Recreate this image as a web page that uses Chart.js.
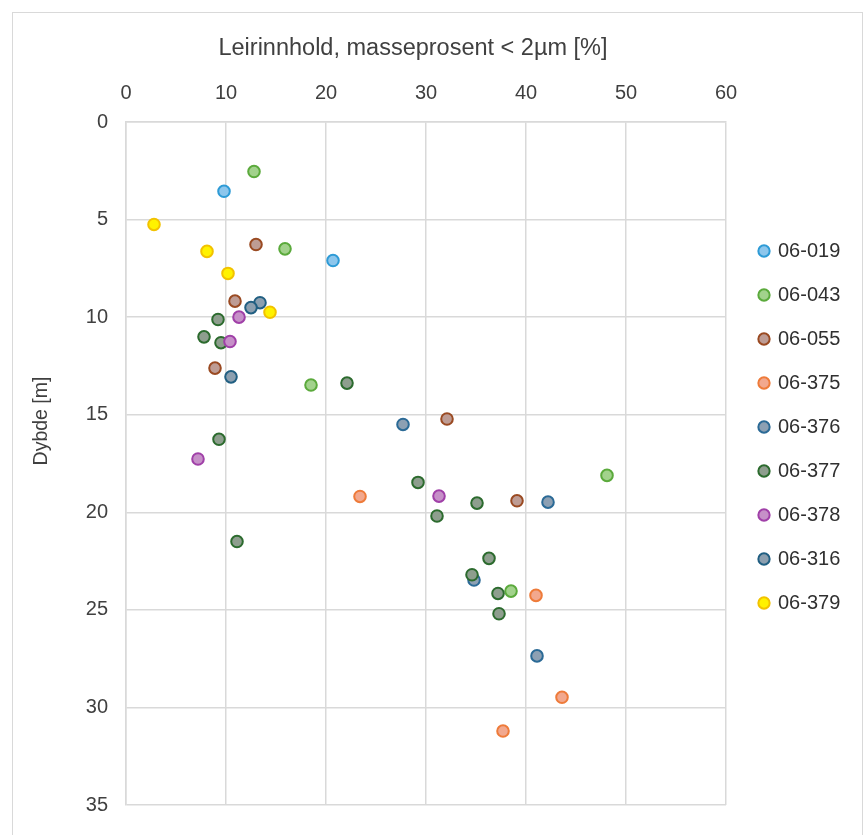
<!DOCTYPE html>
<html>
<head>
<meta charset="utf-8">
<script src="https://cdn.jsdelivr.net/npm/chart.js@4.4.1/dist/chart.umd.min.js"></script>
<style>
  html, body { margin: 0; padding: 0; background: #fff; }
  #wrap { position: relative; width: 864px; height: 835px; overflow: hidden; background: #fff; }
  #frame { position: absolute; left: 12px; top: 12px; width: 851px; height: 860px;
           border: 1.5px solid #D9D9D9; box-sizing: border-box; pointer-events: none; }
  canvas { position: absolute; left: 0; top: 0; }
</style>
</head>
<body>
<div id="wrap">
  <canvas id="chart" width="864" height="835"></canvas>
  <div id="frame"></div>
</div>
<script>
// Borehole labels, in legend order
const boreholes = ['06-019', '06-043', '06-055', '06-375', '06-376', '06-377', '06-378', '06-316', '06-379'];

// Clay content (% mass < 2 µm) and sample depth (m) for each borehole
const clay019 = [9.8, 20.7];
const depth019 = [3.55, 7.1];

const clay043 = [12.8, 15.9, 18.5, 48.1, 38.5];
const depth043 = [2.54, 6.5, 13.48, 18.11, 24.04];

const clay055 = [13.0, 10.9, 8.9, 32.1, 39.1];
const depth055 = [6.28, 9.18, 12.61, 15.22, 19.41];

const clay375 = [23.4, 41.0, 43.6, 37.7];
const depth375 = [19.19, 24.26, 29.48, 31.21];

const clay376 = [27.7, 42.2, 34.8, 41.1];
const depth376 = [15.5, 19.48, 23.47, 27.36];

const clay377 = [9.2, 7.8, 9.5, 22.1, 9.3, 29.2, 35.1, 31.1, 11.1, 36.3, 34.6, 37.2, 37.3];
const depth377 = [10.12, 11.01, 11.31, 13.38, 16.26, 18.47, 19.53, 20.19, 21.5, 22.36, 23.2, 24.16, 25.2];

const clay378 = [11.3, 10.4, 7.2, 31.3];
const depth378 = [10.0, 11.25, 17.27, 19.17];

const clay316 = [13.4, 12.5, 10.5];
const depth316 = [9.26, 9.51, 13.06];

const clay379 = [2.8, 8.1, 10.2, 14.4];
const depth379 = [5.25, 6.63, 7.76, 9.75];

const clayValues = [clay019, clay043, clay055, clay375, clay376, clay377, clay378, clay316, clay379];
const depthValues = [depth019, depth043, depth055, depth375, depth376, depth377, depth378, depth316, depth379];

// Axis ranges and titles
const clayTicks = [0, 10, 20, 30, 40, 50, 60];
const depthTicks = [0, 5, 10, 15, 20, 25, 30, 35];
const xTitle = 'Leirinnhold, masseprosent < 2µm [%]';
const yTitle = 'Dybde [m]';

// Marker styling per borehole
const borderColors = ['#2E9BD6', '#5BAA3C', '#9A4A22', '#EE7B3A', '#2B6A96', '#2C6B2E', '#A040A8', '#215F82', '#F2C200'];
const fillColors   = ['#8DC6EC', '#A2D28C', '#BE9C94', '#F2A88E', '#8DA0B3', '#8E9E8E', '#C690C8', '#8C9FAF', '#FFF200'];

const textColor = '#404040';
const legendColor = '#303030';
const gridColor = '#D9D9D9';
const baseFont = "'Liberation Sans', Arial, sans-serif";

const datasets = boreholes.map((name, i) => ({
  label: name,
  data: clayValues[i].map((c, j) => ({ x: c, y: depthValues[i][j] })),
  backgroundColor: fillColors[i],
  borderColor: borderColors[i],
  borderWidth: 2,
  pointRadius: 5.8,
  pointHoverRadius: 5.8,
  pointStyle: 'circle',
  // later series are painted on top
  order: boreholes.length - i
}));

// Fixed legend box width, and a small nudge of the legend column
const fixedLayout = {
  id: 'fixedLayout',
  afterInit(chart) {
    const lg = chart.legend;
    const fit = lg.fit.bind(lg);
    lg.fit = function () { fit(); this.width = 138; };
    const draw = lg.draw.bind(lg);
    lg.draw = function (area) {
      const l = this.left, t = this.top, b = this.bottom;
      this.left += 10; this.top += 20; this.bottom += 20;
      draw(area);
      this.left = l; this.top = t; this.bottom = b;
    };
  }
};

// Axis titles
const axisTitles = {
  id: 'axisTitles',
  afterDraw(chart) {
    const ctx = chart.ctx;
    ctx.save();
    ctx.fillStyle = textColor;
    ctx.textAlign = 'center';
    ctx.textBaseline = 'middle';
    ctx.font = '23.5px ' + baseFont;
    ctx.fillText(xTitle, 413, 49);
    ctx.font = '19.5px ' + baseFont;
    ctx.translate(42, 421);
    ctx.rotate(-Math.PI / 2);
    ctx.fillText(yTitle, 0, 0);
    ctx.restore();
  }
};

new Chart(document.getElementById('chart'), {
  type: 'scatter',
  data: { datasets },
  plugins: [fixedLayout, axisTitles],
  options: {
    responsive: false,
    animation: false,
    devicePixelRatio: 1,
    layout: { padding: { left: 0, top: 0, right: 0, bottom: 21 } },
    plugins: {
      tooltip: { enabled: false },
      legend: {
        position: 'right',
        align: 'center',
        labels: {
          usePointStyle: true,
          boxWidth: 8,
          boxHeight: 8,
          padding: 24,
          color: legendColor,
          font: { family: baseFont, size: 20 },
          sort: (a, b) => a.datasetIndex - b.datasetIndex
        }
      }
    },
    scales: {
      x: {
        type: 'linear',
        position: 'top',
        min: clayTicks[0],
        max: clayTicks[clayTicks.length - 1],
        afterFit(scale) { scale.height = 122; },
        afterBuildTicks(scale) { scale.ticks = clayTicks.map(v => ({ value: v })); },
        ticks: { padding: 17, color: textColor, font: { family: baseFont, size: 20 } },
        grid: { color: gridColor, lineWidth: 1.5, drawTicks: false },
        border: { display: true, color: gridColor, width: 1.5 }
      },
      y: {
        type: 'linear',
        reverse: true,
        min: depthTicks[0],
        max: depthTicks[depthTicks.length - 1],
        afterFit(scale) { scale.width = 126; },
        afterBuildTicks(scale) { scale.ticks = depthTicks.map(v => ({ value: v })); },
        ticks: { padding: 18, color: textColor, font: { family: baseFont, size: 20 } },
        grid: { color: gridColor, lineWidth: 1.5, drawTicks: false },
        border: { display: true, color: gridColor, width: 1.5 }
      }
    }
  }
});
</script>
</body>
</html>
